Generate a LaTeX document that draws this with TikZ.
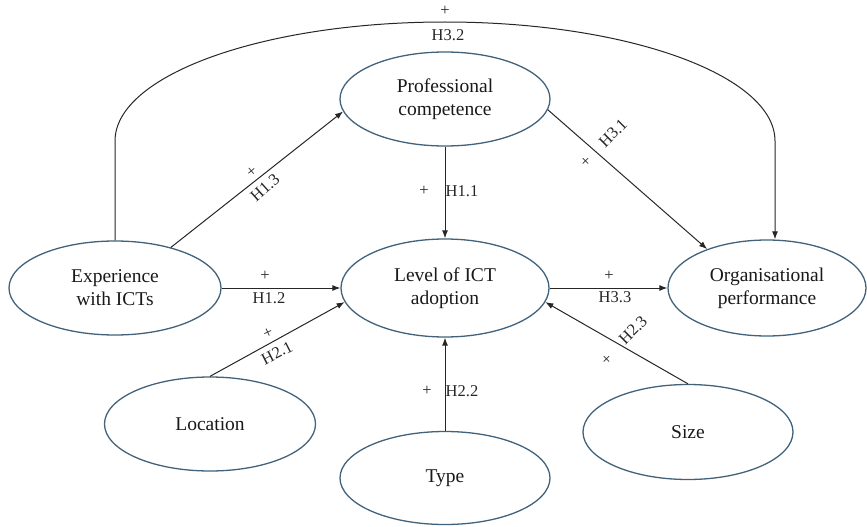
\documentclass[tikz,border=0pt]{standalone}
\usepackage{fontspec}
\setmainfont{Liberation Serif}
\usetikzlibrary{shapes.geometric,arrows.meta}
\definecolor{ellc}{HTML}{41627A}
\begin{document}
\begin{tikzpicture}[x=1pt,y=-1pt,
  ell/.style={draw=ellc, line width=1.3pt, ellipse, inner sep=0pt,
    minimum width=210pt, minimum height=95pt, align=center,
    font=\fontsize{19.5}{23}\selectfont, text=black!90},
  arr/.style={draw=black!85, line width=1pt, -{Latex[length=8pt,width=6pt]}},
  lab/.style={font=\fontsize{16.5}{18}\selectfont, inner sep=0pt, text=black!85}]
\useasboundingbox (0,0) rectangle (867,527);
% nodes
\node[ell, minimum height=94pt] (prof) at (445,99) {Professional\\competence};
\node[ell, minimum width=208pt, minimum height=98pt] (level) at (445,288) {Level of ICT\\adoption};
\node[ell, minimum width=212pt, minimum height=94pt] (exp) at (115,288) {Experience\\with ICTs};
\node[ell, minimum width=198pt, minimum height=96pt] (org) at (767,288) {Organisational\\performance};
\node[ell, minimum width=211pt, minimum height=94pt] (loc) at (210,424) {Location};
\node[ell, minimum height=93pt] (type) at (445,478) {Type};
\node[ell] (size) at (688,432) {Size};
% connectors
\draw[arr] (exp.36) -- (prof.187);
\draw[arr] (prof.south) -- (level.north);
\draw[arr] (prof.-6) -- (org.147);
\draw[arr] (exp.east) -- (level.west);
\draw[arr] (level.east) -- (org.west);
\draw[arr] (loc.north) -- (level.188);
\draw[arr] (type.north) -- (level.south);
\draw[arr] (size.north) -- (level.-8);
\coordinate (arcL) at (115,141);
\coordinate (arcTop) at (445,22);
\coordinate (arcR) at (775,141);
\draw[arr] (exp.north) -- (arcL) .. controls (115,75.3) and (262.7,22) .. (arcTop)
  .. controls (627.3,22) and (775,75.3) .. (arcR) -- (arcR |- org.north);
% labels
\node[lab] (l32p) at (445,11) {+};
\node[lab] (l32) at (448,35) {H3.2};
\node[lab, rotate=40] (l13p) at (252,172) {+};
\node[lab, rotate=42] (l13) at (265,188) {H1.3};
\node[lab] (l11p) at (424,191) {+};
\node[lab] (l11) at (462,191) {H1.1};
\node[lab, rotate=45] (l31p) at (586,162) {+};
\node[lab, rotate=45] (l31) at (613,133) {H3.1};
\node[lab] (l12p) at (265,276) {+};
\node[lab] (l12) at (269,298) {H1.2};
\node[lab] (l33p) at (609,276) {+};
\node[lab] (l33) at (615,297) {H3.3};
\node[lab, rotate=25] (l21p) at (268,333) {+};
\node[lab, rotate=27] (l21) at (277,353) {H2.1};
\node[lab] (l22p) at (427,391) {+};
\node[lab] (l22) at (462,391) {H2.2};
\node[lab, rotate=45] (l23) at (633,330) {H2.3};
\node[lab, rotate=45] (l23p) at (607,360) {+};
\end{tikzpicture}
\end{document}
